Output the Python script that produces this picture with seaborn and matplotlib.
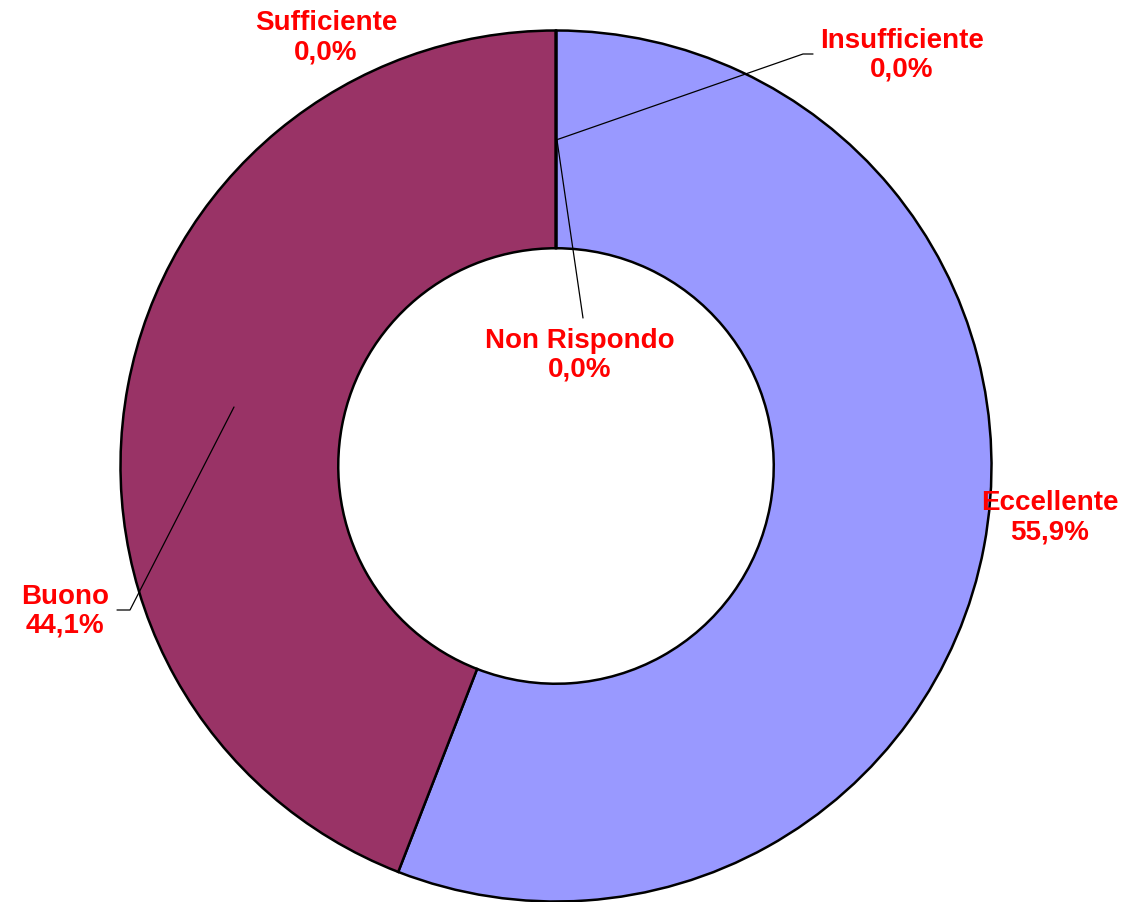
import matplotlib
matplotlib.use("Agg")
import matplotlib.pyplot as plt
import seaborn as sns

# Data
categories = ["Eccellente", "Buono", "Sufficiente", "Insufficiente", "Non Rispondo"]
values = [55.9, 44.1, 0.0, 0.0, 0.0]
colors = ["#9999FF", "#993366", "#FFFFCC", "#CCFFFF", "#660066"]

sns.set_theme(style="white")
plt.rcParams['font.family'] = ['Liberation Sans', 'DejaVu Sans']

W, H = 1127, 902
fig = plt.figure(figsize=(W / 100, H / 100), dpi=100)
ax = fig.add_axes([0, 0, 1, 1])

cx, cy = 556, 466  # pie centre in pixels (from top-left)
R = 435.5

# pixel -> data helper (data units are pixels, origin at pie centre, y up)
def P(x, y):
    return (x - cx, cy - y)

wedges, _ = ax.pie(values, colors=colors, startangle=90, counterclock=False,
                   radius=R, center=(0, 0),
                   wedgeprops=dict(width=R * 0.5, edgecolor="black", linewidth=1.8))

ax.set_xlim(-cx, W - cx)
ax.set_ylim(cy - H, cy)
ax.set_aspect("auto")
ax.axis("off")

labels = {
    "Eccellente": (1050, 518),
    "Buono": (65, 611),
    "Sufficiente": (326, 38),
    "Insufficiente": (902, 55),
    "Non Rispondo": (580, 355),
}
for cat, v in zip(categories, values):
    x, y = P(*labels[cat])
    ax.text(x, y, f"{cat}\n{v:.1f}%".replace(".", ","), ha="center", va="center",
            color="#FF0000", fontsize=20, fontweight="bold", linespacing=1.15)

# leader lines
leaders = [
    [(556, 140), (803, 54), (813, 54)],
    [(557, 140), (583, 318)],
    [(234, 407), (130, 610), (117, 610)],
]
for pts in leaders:
    xs, ys = zip(*[P(*p) for p in pts])
    ax.plot(xs, ys, color="black", linewidth=0.9)

fig.savefig("out.png", dpi=100, facecolor="white")
